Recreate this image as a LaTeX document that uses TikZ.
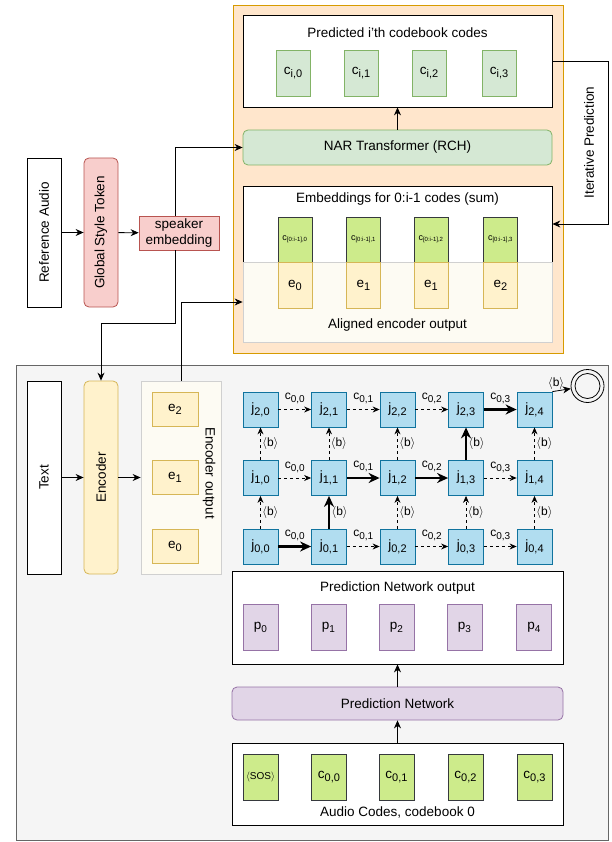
\documentclass[tikz,border=0pt]{standalone}
\usepackage{graphicx}
\usepackage{xcolor}
\usepackage{fontspec}
\setmainfont{Liberation Sans}
\usepackage{tikz}
\usetikzlibrary{positioning}
\usetikzlibrary{arrows.meta,calc}

\definecolor{orfill}{HTML}{FFE6CC}
\definecolor{orline}{HTML}{D79B00}
\definecolor{grfill}{HTML}{D5E8D4}
\definecolor{grline}{HTML}{82B366}
\definecolor{limefill}{HTML}{CDEB8B}
\definecolor{limeline}{HTML}{36393D}
\definecolor{yefill}{HTML}{FFF2CC}
\definecolor{yeline}{HTML}{D6B656}
\definecolor{rdfill}{HTML}{F8CECC}
\definecolor{rdline}{HTML}{B85450}
\definecolor{blfill}{HTML}{B1DDF0}
\definecolor{blline}{HTML}{10739E}
\definecolor{pufill}{HTML}{E1D5E7}
\definecolor{puline}{HTML}{9673A6}
\definecolor{gyfill}{HTML}{F5F5F5}
\definecolor{gyline}{HTML}{666666}
\definecolor{crfill}{HTML}{FDFBF3}
\definecolor{crline}{HTML}{D0D0D0}

\newcommand{\ssub}[2][11]{\raisebox{-3pt}{\fontsize{#1}{#1}\selectfont #2}}

\begin{document}
\begin{tikzpicture}[x=1pt, y=-1pt,
  font=\fontsize{13.5}{16}\selectfont,
  plainbox/.style={draw=black, fill=white, line width=0.8pt, inner sep=0pt},
  orbox/.style={draw=orline, fill=orfill, line width=0.8pt, inner sep=0pt},
  narbox/.style={draw=grline, fill=grfill, line width=0.8pt, inner sep=0pt},
  codebox/.style={draw=limeline, fill=limefill, line width=0.8pt, inner sep=0pt},
  ybox/.style={draw=yeline, fill=yefill, line width=0.8pt, inner sep=0pt},
  redbox/.style={draw=rdline, fill=rdfill, line width=0.8pt, inner sep=0pt},
  jbox/.style={draw=blline, fill=blfill, line width=0.8pt, inner sep=0pt, minimum size=35pt},
  purpbox/.style={draw=puline, fill=pufill, line width=0.8pt, inner sep=0pt},
  graybox/.style={draw=gyline, fill=gyfill, line width=0.8pt, inner sep=0pt},
  creambox/.style={draw=crline, fill=crfill, line width=0.8pt, inner sep=0pt},
  arr/.style={-{Stealth[length=8pt,width=7pt]}, line width=0.8pt},
  dasharr/.style={-{Stealth[length=7pt,width=6pt]}, line width=0.8pt, dash pattern=on 3pt off 3pt},
  boldarr/.style={-{Stealth[length=11pt,width=10pt]}, line width=2.2pt},
  lbl/.style={font=\fontsize{12}{14}\selectfont, inner sep=1pt}]

 \useasboundingbox (0,0) rectangle (611,842);

 % NAR part
 \node[orbox, minimum width=330pt, minimum height=348pt] (narblk) at (398,179) {};
 \node[plainbox, minimum width=309pt, minimum height=92pt] (pred) at (397.5,61) {};
 \node (predtitle) at (397.5,33) {Predicted i'th codebook codes};
 \foreach \i/\x in {0/293,1/361,2/429,3/499}
   \node[narbox, minimum width=34pt, minimum height=46pt] (c\i) at (\x,73) {c\ssub{i,\i}};

 \node[narbox, rounded corners=5pt, minimum width=309pt, minimum height=35pt] (nar) at (397.5,147.5) {NAR Transformer (RCH)};

 \node[plainbox, minimum width=309pt, minimum height=76pt] (emb) at (397.5,224) {};
 \node[creambox, minimum width=309pt, minimum height=80pt] (aligned) at (397.5,302) {};
 \node (embtitle) at (397.5,199) {Embeddings for 0:i-1 codes (sum)};
 \node (alignedtitle) at (397.5,325) {Aligned encoder output};
 \foreach \i/\x/\e in {0/295/0,1/363.5/1,2/431/1,3/500.5/2} {
   \node[codebox, minimum width=34pt, minimum height=45pt, font=\fontsize{9}{10}\selectfont] (cp\i) at (\x,239.5) {c\textsubscript{[0:i-1],\i}};
   \node[ybox, minimum width=34pt, minimum height=46pt] (ea\i) at (\x,285) {e\ssub{\e}};
 }

 % speaker
 \node[plainbox, minimum width=34pt, minimum height=149pt] (refaudio) at (44,232.5) {\rotatebox{90}{Reference Audio}};
 \node[redbox, rounded corners=5pt, minimum width=34pt, minimum height=149pt] (gst) at (101,232.5) {\rotatebox{90}{Global Style Token}};
 \node[redbox, minimum width=80pt, minimum height=34pt, align=center] (spk) at (179,233) {speaker\\embedding};

 % transducer part
 \node[graybox, minimum width=592pt, minimum height=475pt] (rnnt) at (312,602.5) {};
 \node[plainbox, minimum width=34pt, minimum height=193pt] (text) at (44,477.5) {\rotatebox{90}{Text}};
 \node[ybox, rounded corners=5pt, minimum width=34pt, minimum height=193pt] (enc) at (101,477.5) {\rotatebox{90}{Encoder}};
 \node[creambox, minimum width=80pt, minimum height=193pt] (encout) at (181,477.5) {};
 \foreach \e/\y in {2/409,1/477.5,0/546}
   \node[ybox, minimum width=46pt, minimum height=34pt] (e\e) at (175,\y) {e\ssub{\e}};
 \node (encoutlbl) at (209,473) {\rotatebox{-90}{Encoder output}};

 %lattice
 \foreach \r/\y in {0/546.5,1/478,2/409.5}
   \foreach \c/\x in {0/260.5,1/329,2/397.5,3/466,4/534.5}
     \node[jbox] (j\r\c) at (\x,\y) {j\ssub{\r,\c}};
 \node[circle, draw, line width=0.8pt, minimum size=33pt, inner sep=0pt] (fin) at (587.5,386) {};
 \node[circle, draw, line width=0.8pt, minimum size=25pt, inner sep=0pt] (fininner) at (fin.center) {};

 \foreach \a/\b/\k/\s in {00/01/0/boldarr, 01/02/1/dasharr, 02/03/2/dasharr, 03/04/3/dasharr,
                          10/11/0/dasharr, 11/12/1/boldarr, 12/13/2/boldarr, 13/14/3/dasharr,
                          20/21/0/dasharr, 21/22/1/dasharr, 22/23/2/dasharr, 23/24/3/boldarr}
   \draw[\s] (j\a) -- node[lbl, above=4pt] (h\a) {c\ssub[10]{0,\k}} (j\b);

 \foreach \a/\b/\s in {00/10/dasharr, 10/20/dasharr, 01/11/boldarr, 11/21/dasharr, 02/12/dasharr,
                       12/22/dasharr, 03/13/dasharr, 13/23/boldarr, 04/14/dasharr, 14/24/dasharr}
   \draw[\s] (j\a) -- node[lbl, right=0.5pt] (v\a) {\ensuremath{\langle}b\ensuremath{\rangle}} (j\b);

 \draw[arr] (j24.north east) -- node[lbl, above, pos=0.2] (finlbl) {\ensuremath{\langle}b\ensuremath{\rangle}} (fin);

 % prediction network
 \node[plainbox, minimum width=331pt, minimum height=93pt] (pno) at (397.5,617.5) {};
 \node (pnotitle) at (397.5,588) {Prediction Network output};
 \foreach \i/\x in {0/260.5,1/328.5,2/396.5,3/464.5,4/534}
   \node[purpbox, minimum width=35pt, minimum height=46pt] (p\i) at (\x,627) {p\ssub[10]{\i}};
 \node[purpbox, rounded corners=5pt, minimum width=331pt, minimum height=33pt] (pn) at (397.5,703.5) {Prediction Network};
 \node[plainbox, minimum width=331pt, minimum height=82pt] (codes) at (397.5,784) {};
 \node[codebox, minimum width=35pt, minimum height=46pt, font=\fontsize{10}{12}\selectfont] (sos) at (260.5,777) {\ensuremath{\langle}SOS\ensuremath{\rangle}};
 \foreach \i/\x in {0/329,1/396.5,2/465.5,3/534.5}
   \node[codebox, minimum width=35pt, minimum height=46pt] (a\i) at (\x,777) {c\ssub{0,\i}};
 \node (codeslbl) at (397.5,812) {Audio Codes, codebook 0};

 % lines
 \draw[arr] (refaudio) -- (gst);
 \draw[arr] (gst) -- (spk);
 \draw[arr] ([xshift=-4pt]spk.north) |- (nar.west);
 \draw[arr] ([xshift=-4pt]spk.south) -- ++(0,73) -| (enc.north);
 \draw[arr] (encout.north) |- (aligned.west);
 \draw[arr] (nar) -- (pred);
 \draw[arr] (pred.east) -- ++(56,0) |- node[pos=0.25, rotate=90, anchor=south, inner sep=14pt] (itlbl) {Iterative Prediction} (emb.east);
 \draw[arr] (text) -- (enc);
 \draw[arr] (enc) -- (encout);
 \draw[arr] (codes) -- (pn);
 \draw[arr] (pn) -- (pno);

\end{tikzpicture}
\end{document}
